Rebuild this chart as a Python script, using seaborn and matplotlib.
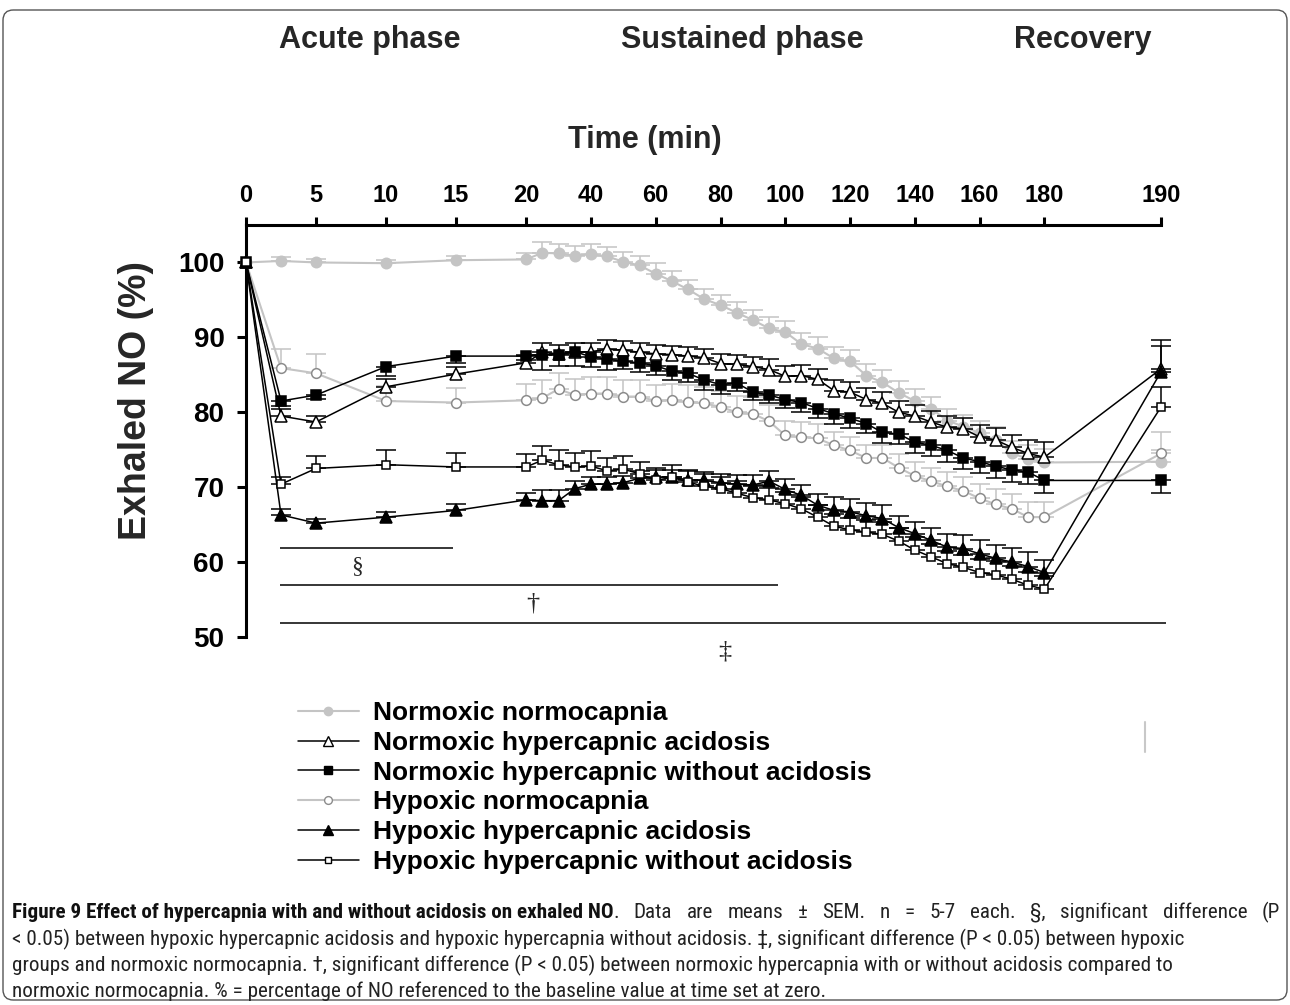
import numpy as np
import matplotlib
matplotlib.use("Agg")
import matplotlib.pyplot as plt
import seaborn as sns
from matplotlib.lines import Line2D
from matplotlib.patches import FancyBboxPatch
from matplotlib.font_manager import FontProperties
from matplotlib import font_manager as fm

# ---------------- data ----------------
times = [0, 2.5, 5, 10, 15, 20, 25, 30, 35, 40, 45, 50, 55, 60, 65, 70, 75, 80, 85, 90,
         95, 100, 105, 110, 115, 120, 125, 130, 135, 140, 145, 150, 155, 160, 165, 170,
         175, 180, 190]

normoxic_normocapnia = [100, 100.2, 100.0, 99.9, 100.3, 100.4, 101.3, 101.2, 100.9, 101.1, 100.8,
                        100.1, 99.6, 98.5, 97.5, 96.4, 95.1, 94.3, 93.3, 92.3, 91.2, 90.7, 89.1,
                        88.5, 87.2, 86.8, 84.9, 84.0, 82.6, 81.5, 80.5, 78.9, 78.1, 77.2, 76.3,
                        74.5, 73.8, 73.3, 73.4]
normoxic_normocapnia_err = [0, 0.5, 0.4, 0.4, 0.5, 0.8, 1.4, 1.3, 1.3, 1.3, 1.3, 1.3, 1.3, 1.4, 1.3,
                            1.3, 1.4, 1.4, 1.4, 1.4, 1.5, 1.5, 1.5, 1.5, 1.5, 1.5, 1.5, 1.6, 1.6,
                            1.6, 1.6, 1.6, 1.6, 1.7, 1.7, 1.7, 1.8, 1.8, 1.6]

normoxic_hc_acidosis = [100, 79.5, 78.7, 83.4, 85.1, 86.6, 88.0, 87.8, 88.0, 88.1, 88.4, 88.3,
                        88.0, 87.8, 87.7, 87.5, 87.3, 86.5, 86.4, 86.1, 85.7, 84.8, 84.9, 84.4,
                        82.9, 82.7, 81.7, 81.2, 80.0, 79.5, 78.7, 78.0, 77.8, 76.7, 76.3, 75.3,
                        74.5, 74.0, 85.8]
normoxic_hc_acidosis_err = [0, 1.0, 0.8, 1.0, 0.9, 1.0, 1.2, 1.2, 1.2, 1.2, 1.3, 1.2, 1.2, 1.2,
                            1.2, 1.2, 1.2, 1.3, 1.3, 1.3, 1.4, 1.4, 1.4, 1.4, 1.4, 1.4, 1.5, 1.5,
                            1.5, 1.5, 1.5, 1.5, 1.5, 1.6, 1.6, 1.7, 1.8, 2.0, 3.8]

normoxic_hc_no_acidosis = [100, 81.5, 82.3, 86.1, 87.5, 87.5, 87.7, 87.7, 88.1, 87.4, 87.1, 86.8,
                           86.6, 86.2, 85.5, 85.2, 84.3, 83.7, 83.9, 82.7, 82.3, 81.7, 81.3, 80.5,
                           79.8, 79.2, 78.5, 77.3, 77.1, 76.0, 75.6, 74.9, 73.9, 73.4, 72.8, 72.3,
                           72.0, 70.9, 70.9]
normoxic_hc_no_acidosis_err = [0, 0.7, 0.5, 1.3, 0.9, 0.5, 2.0, 1.5, 1.9, 1.3, 1.5, 1.0, 1.2, 1.2,
                               1.2, 1.1, 1.3, 1.3, 1.0, 1.0, 1.1, 1.1, 1.2, 1.2, 1.3, 1.3, 1.3,
                               1.4, 1.4, 1.4, 1.4, 1.5, 1.5, 1.5, 1.6, 1.6, 1.6, 1.7, 1.7]

hypoxic_normocapnia = [100, 85.9, 85.2, 81.5, 81.3, 81.6, 81.9, 83.1, 82.3, 82.5, 82.5, 82.1,
                       82.1, 81.5, 81.6, 81.4, 81.2, 80.7, 80.0, 79.8, 78.8, 76.9, 76.7, 76.5,
                       75.6, 74.9, 73.9, 73.9, 72.6, 71.5, 70.8, 70.1, 69.5, 68.5, 67.7, 67.1,
                       66.0, 66.0, 74.5]
hypoxic_normocapnia_err = [0, 2.5, 2.6, 2.0, 2.0, 2.2, 2.4, 2.1, 2.2, 2.2, 2.2, 2.2, 2.2, 2.2,
                           2.2, 2.2, 2.2, 2.2, 2.2, 2.2, 2.2, 2.0, 2.0, 1.9, 1.8, 1.8, 1.7, 1.7,
                           1.8, 1.8, 1.8, 1.9, 1.9, 1.9, 2.0, 2.0, 2.0, 2.0, 2.8]

hypoxic_hc_acidosis = [100, 66.3, 65.2, 66.0, 66.9, 68.3, 68.2, 68.2, 69.8, 70.4, 70.4, 70.6,
                       71.2, 71.3, 71.3, 71.0, 70.9, 70.6, 70.4, 70.3, 70.8, 69.7, 68.9, 67.6,
                       66.9, 66.7, 66.2, 65.8, 64.6, 63.8, 62.9, 62.0, 61.8, 61.1, 60.5, 60.0,
                       59.4, 58.6, 85.4]
hypoxic_hc_acidosis_err = [0, 0.8, 0.6, 0.7, 0.8, 0.9, 1.4, 1.4, 1.0, 0.9, 0.9, 0.9, 1.0, 1.0,
                           1.0, 1.1, 1.1, 1.1, 1.2, 1.3, 1.3, 1.4, 1.4, 1.5, 1.8, 1.7, 1.7, 1.8,
                           1.6, 1.6, 1.6, 1.7, 1.8, 1.8, 1.8, 1.9, 2.0, 1.7, 3.5]

hypoxic_hc_no_acidosis = [100, 70.4, 72.5, 73.0, 72.7, 72.7, 73.6, 73.0, 72.7, 72.8, 72.2, 72.4,
                          71.8, 70.9, 71.3, 70.7, 70.1, 69.8, 69.2, 68.6, 68.3, 67.8, 67.1, 66.0,
                          64.8, 64.3, 64.0, 63.7, 62.8, 61.6, 60.7, 59.8, 59.3, 58.6, 58.3, 57.7,
                          56.9, 56.4, 80.7]
hypoxic_hc_no_acidosis_err = [0, 1.0, 1.7, 1.9, 1.8, 1.7, 1.9, 1.9, 1.8, 2.0, 1.7, 1.7, 1.6, 1.6,
                              1.6, 1.6, 1.6, 1.6, 1.6, 1.6, 1.6, 1.6, 1.6, 1.6, 1.6, 1.6, 1.6,
                              1.7, 1.7, 1.7, 1.7, 1.7, 1.7, 1.8, 1.8, 1.8, 1.8, 1.8, 2.7]

labels = ["Normoxic normocapnia", "Normoxic hypercapnic acidosis",
          "Normoxic hypercapnic without acidosis", "Hypoxic normocapnia",
          "Hypoxic hypercapnic acidosis", "Hypoxic hypercapnic without acidosis"]

xtick_vals = [0, 5, 10, 15, 20, 40, 60, 80, 100, 120, 140, 160, 180, 190]
ytick_vals = [50, 60, 70, 80, 90, 100]
phase_labels = ["Acute phase", "Sustained phase", "Recovery"]

# significance bars: (y, t_start, t_end, symbol, t_sym, y_sym)
sig_bars = [(61.9, 2.4, 14.8, "§", 7.9, 59.4),
            (56.9, 2.4, 97.8, "†", 22.1, 54.5),
            (51.9, 2.4, 190.4, "‡", 81.2, 48.1)]

caption = [
    ("Figure 9 Effect of hypercapnia with and without acidosis on exhaled NO",
     ". Data are means ± SEM. n = 5-7 each. §, significant difference (P"),
    ("", "< 0.05) between hypoxic hypercapnic acidosis and hypoxic hypercapnia without acidosis. ‡, significant difference (P < 0.05) between hypoxic"),
    ("", "groups and normoxic normocapnia. †, significant difference (P < 0.05) between normoxic hypercapnia with or without acidosis compared to"),
    ("", "normoxic normocapnia. % = percentage of NO referenced to the baseline value at time set at zero."),
]

# ---------------- style ----------------
sns.set_theme(style="white")
plt.rcParams['font.family'] = ['Liberation Sans', 'DejaVu Sans']
plt.rcParams['axes.edgecolor'] = 'black'

W, H = 1290, 1005
fig = plt.figure(figsize=(W / 100, H / 100), dpi=100)
fig.patch.set_facecolor('white')

def fx(px):
    return px / W

def fy(py):
    return 1 - py / H

ax = fig.add_axes([fx(246), fy(637), (1161 - 246) / W, (637 - 225) / H])
ax.set_facecolor('none')

# piecewise time scale
def fwd(t):
    t = np.asarray(t, dtype=float)
    return np.where(t < 20, t * 14.0,
                    np.where(t < 180, 280 + (t - 20) * 3.2375, 798 + (t - 180) * 11.65))

def inv(p):
    p = np.asarray(p, dtype=float)
    return np.where(p < 280, p / 14.0,
                    np.where(p < 798, 20 + (p - 280) / 3.2375, 180 + (p - 798) / 11.65))

LG = '#c4c4c4'
MG = '#8c8c8c'
series = [
    # data, err, direction, line color, marker, ms, mfc, mec, lw, ecolor
    (normoxic_normocapnia, normoxic_normocapnia_err, 'up', LG, 'o', 7.5, LG, LG, 1.5, LG),
    (hypoxic_normocapnia, hypoxic_normocapnia_err, 'up', LG, 'o', 7.0, 'white', MG, 1.5, LG),
    (normoxic_hc_acidosis, normoxic_hc_acidosis_err, 'up', 'black', '^', 9.0, 'white', 'black', 1.1, 'black'),
    (normoxic_hc_no_acidosis, normoxic_hc_no_acidosis_err, 'down', 'black', 's', 6.6, 'black', 'black', 1.1, 'black'),
    (hypoxic_hc_acidosis, hypoxic_hc_acidosis_err, 'up', 'black', '^', 9.0, 'black', 'black', 1.1, 'black'),
    (hypoxic_hc_no_acidosis, hypoxic_hc_no_acidosis_err, 'up', 'black', 's', 6.2, 'white', 'black', 1.1, 'black'),
]

t_arr = np.array(times, dtype=float)
for i, (vals, err, direc, lc, mk, ms, mfc, mec, lw, ec) in enumerate(series):
    v = np.array(vals, dtype=float)
    e = np.array(err, dtype=float)
    m = e > 0
    zero = np.zeros(m.sum())
    yerr = [zero, e[m]] if direc == 'up' else [e[m], zero]
    ax.errorbar(t_arr[m], v[m], yerr=yerr, fmt='none', ecolor=ec, elinewidth=1.1,
                capsize=7, capthick=1.1, zorder=3 + 2 * i, clip_on=False)
    sns.lineplot(x=t_arr, y=v, ax=ax, color=lc, linewidth=lw, marker=mk, markersize=ms,
                 markerfacecolor=mfc, markeredgecolor=mec, markeredgewidth=1.1,
                 zorder=4 + 2 * i, clip_on=False, legend=False, errorbar=None)

ax.set_xscale('function', functions=(fwd, inv))
ax.set_xlim(0, 190)
ax.set_ylim(50, 105)
ax.set_xlabel('')
ax.set_ylabel('')

# significance bars
for (yv, t0, t1, sym, ts, ys) in sig_bars:
    ax.hlines(yv, t0, t1, color='black', lw=1.1, clip_on=False, zorder=2)
    ax.text(ts, ys, sym, ha='center', va='center', fontsize=19 if sym != "§" else 17,
            family=['Liberation Serif', 'DejaVu Serif'], clip_on=False)

# axes styling
for s in ['bottom', 'right']:
    ax.spines[s].set_visible(False)
for s in ['top', 'left']:
    ax.spines[s].set_linewidth(2.2)
    ax.spines[s].set_color('black')
ax.xaxis.tick_top()
ax.set_xticks(xtick_vals)
ax.set_xticklabels([str(v) for v in xtick_vals], fontsize=17, fontweight='bold')
ax.set_yticks(ytick_vals)
ax.set_yticklabels([str(v) for v in ytick_vals], fontsize=20, fontweight='bold')
ax.tick_params(axis='x', which='major', top=True, bottom=False, labeltop=True, labelbottom=False,
               direction='out', length=6, width=2.2, pad=7, colors='black')
ax.tick_params(axis='x', which='minor', top=False, bottom=False)
ax.tick_params(axis='y', direction='out', length=6.5, width=2.2, pad=9, colors='black', left=True)
ax.grid(False)

# texts
fig.text(fx(370), fy(40), phase_labels[0], ha='center', va='center', fontsize=22, weight='bold')
fig.text(fx(742), fy(40), phase_labels[1], ha='center', va='center', fontsize=22, weight='bold')
fig.text(fx(1083), fy(40), phase_labels[2], ha='center', va='center', fontsize=22, weight='bold')
fig.text(fx(645), fy(140), 'Time (min)', ha='center', va='center', fontsize=22, weight='bold')
fig.text(fx(136), fy(400), 'Exhaled NO (%)', ha='center', va='center', fontsize=27,
         weight='bold', rotation=90)

# legend
handles = []
for (vals, err, direc, lc, mk, ms, mfc, mec, lw, ec) in series:
    handles.append(Line2D([], [], color=lc, lw=lw, marker=mk, markersize=ms * 0.8,
                          markerfacecolor=mfc, markeredgecolor=mec, markeredgewidth=1.0))
order = [0, 2, 3, 1, 4, 5]
leg = fig.legend([handles[k] for k in order], labels, loc='upper left',
                 bbox_to_anchor=(fx(298), fy(701)), frameon=False,
                 prop=FontProperties(family='Liberation Sans', weight='bold', size=19),
                 handlelength=2.3, handletextpad=0.55, labelspacing=0.22,
                 borderpad=0, borderaxespad=0)
for t in leg.get_texts():
    t.set_color('black')

# stray mark
fig.add_artist(Line2D([fx(1145), fx(1145)], [fy(722), fy(752)], color='#c8c8c8', lw=1.5,
                      transform=fig.transFigure))

# frame
fig.add_artist(FancyBboxPatch((fx(3), fy(1000)), (1284) / W, (990) / H,
                              boxstyle='round,pad=0,rounding_size=0.008',
                              mutation_aspect=W / H, transform=fig.transFigure,
                              fill=False, ec='#555555', lw=1.0))

# caption
names = {f.name for f in fm.fontManager.ttflist}
cap_family = 'Liberation Sans'
for cand in ['Liberation Sans Narrow', 'Roboto Condensed', 'Open Sans Condensed']:
    if cand in names:
        cap_family = cand
        break
CAPF = [cap_family, 'DejaVu Sans']

renderer = fig.canvas.get_renderer()

def text_width(txt, size, weight='normal'):
    t = fig.text(0, 0, txt, fontsize=size, weight=weight, family=CAPF)
    w = t.get_window_extent(renderer).width
    t.remove()
    return w

base = 14.0
cap_size = base * 1176.0 / text_width(caption[1][1], base)

cap_y = [912, 939, 965, 991]
for idx, ((b, n), yy) in enumerate(zip(caption, cap_y)):
    xpix = 12.0
    if b:
        tb = fig.text(fx(xpix), fy(yy), b, fontsize=cap_size, weight='bold', va='center',
                      ha='left', family=CAPF, color='#111111')
        xpix += tb.get_window_extent(renderer).width
    if idx == 0:
        # justified first line: spread the words up to the right margin
        words = n.split(' ')
        widths = [text_width(wd, cap_size) for wd in words]
        gap = (1280.0 - xpix - sum(widths)) / (len(words) - 1)
        for wd, ww in zip(words, widths):
            fig.text(fx(xpix), fy(yy), wd, fontsize=cap_size, va='center', ha='left',
                     family=CAPF, color='#222222')
            xpix += ww + gap
    else:
        fig.text(fx(xpix), fy(yy), n, fontsize=cap_size, va='center', ha='left',
                 family=CAPF, color='#222222')

fig.savefig('out.png', dpi=100, facecolor='white')
